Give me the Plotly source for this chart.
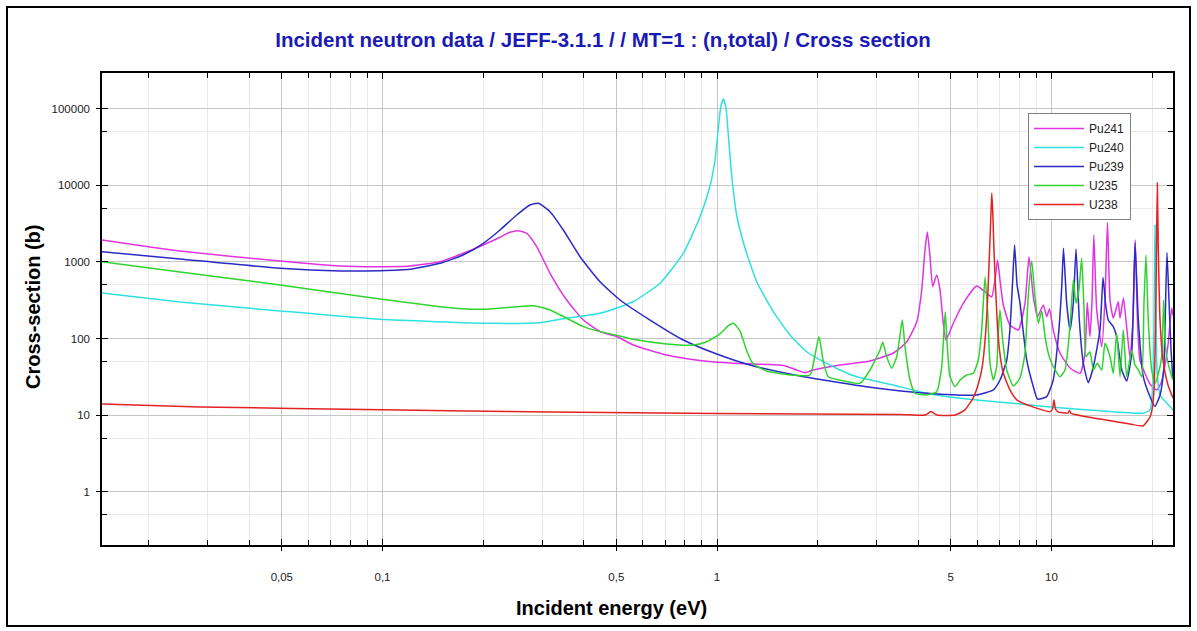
import math
import plotly.graph_objects as go

# Total cross sections (energy in eV, sigma in barns), JEFF-3.1.1, MT=1
PU241 = [
    (0.0145, 1932), (0.0248, 1388), (0.0494, 1027), (0.0746, 884), (0.0983, 866),
    (0.121, 884), (0.1485, 1006), (0.1744, 1295), (0.2002, 1662), (0.2245, 2095),
    (0.2405, 2434), (0.2547, 2555), (0.2699, 2362), (0.2891, 1579), (0.3168, 710),
    (0.3553, 318), (0.3985, 174), (0.4469, 123), (0.5013, 106), (0.5621, 82.3),
    (0.7071, 60.9), (0.8897, 51.6), (1.119, 47.5), (1.408, 45.8), (1.578, 44.4),
    (1.731, 38.8), (1.833, 35.8), (1.941, 38.8), (2.332, 45.1), (2.867, 50.9),
    (3.366, 64.7), (3.691, 90.0), (3.954, 164), (4.093, 430), (4.186, 1430),
    (4.254, 2457), (4.333, 1169), (4.414, 475), (4.538, 675), (4.642, 430),
    (4.748, 158), (4.837, 95.6), (5.086, 158), (5.448, 288), (5.975, 485),
    (6.401, 389), (6.625, 348), (6.777, 580), (6.895, 1058), (7.015, 580),
    (7.176, 274), (7.51, 150), (7.957, 129), (8.332, 288), (8.565, 1169),
    (8.823, 351), (9.082, 193), (9.452, 274), (9.674, 193), (9.863, 243),
    (10.12, 129), (10.60, 64.7), (11.36, 41.2), (12.17, 35.1), (12.59, 64.1),
    (12.79, 295), (13.03, 106), (13.22, 318), (13.38, 2245), (13.65, 236),
    (14.13, 78.2), (14.45, 318), (14.70, 3268), (14.96, 318), (15.30, 185),
    (15.66, 258), (15.84, 302), (16.03, 185), (16.41, 338), (16.81, 129),
    (17.17, 55.7), (17.52, 174), (17.80, 1932), (18.07, 174), (18.39, 52.4),
    (19.70, 25.5), (20.63, 21.3), (21.26, 26.2), (21.85, 45.1), (22.30, 82.3),
    (22.88, 250), (23.08, 200),
]

PU240 = [
    (0.0145, 393), (0.0248, 300), (0.0494, 229), (0.0983, 178), (0.2097, 158),
    (0.2957, 161), (0.3553, 184), (0.4469, 213), (0.5609, 302), (0.6755, 526),
    (0.7929, 1295), (0.8897, 3890), (0.9530, 9790), (0.9863, 21390), (1.009, 55980),
    (1.026, 105300), (1.044, 133800), (1.064, 101200), (1.081, 45360), (1.106, 13630),
    (1.145, 4096), (1.213, 1505), (1.314, 551), (1.473, 224), (1.653, 111),
    (1.854, 67.2), (2.079, 49.8), (2.332, 38.8), (2.616, 31.7), (3.36, 24.7),
    (4.236, 19.3), (5.33, 16.6), (6.70, 15.0), (8.05, 14.0), (9.90, 12.8),
    (13.96, 11.4), (18.77, 10.6), (19.70, 11.7), (20.11, 28.7), (20.28, 318),
    (20.39, 3031), (20.50, 318), (20.67, 38.8), (21.11, 18.3), (22.1, 14.4),
    (23.08, 11.7),
]

PU239 = [
    (0.0145, 1359), (0.0248, 1091), (0.0494, 825), (0.0746, 761), (0.0983, 768),
    (0.1208, 801), (0.1485, 959), (0.1740, 1230), (0.2002, 1749), (0.2245, 2609),
    (0.2519, 4096), (0.2761, 5531), (0.2922, 5821), (0.3168, 4523), (0.3471, 2609),
    (0.3895, 1169), (0.4469, 551), (0.5129, 318), (0.6306, 174), (0.7929, 95.6),
    (0.998, 62.8), (1.255, 45.1), (1.770, 32.4), (2.079, 28.7), (2.867, 23.1),
    (4.236, 19.3), (5.975, 18.3), (6.70, 21.3), (7.015, 28.7), (7.347, 52.4),
    (7.51, 129), (7.656, 580), (7.757, 1662), (7.89, 500), (8.05, 291),
    (8.431, 52.4), (8.823, 23.5), (9.082, 16.2), (9.674, 17.4), (10.12, 28.7),
    (10.48, 106), (10.73, 475), (10.86, 1505), (11.10, 291), (11.36, 129),
    (11.62, 291), (11.84, 1474), (12.11, 174), (12.45, 47.5), (12.88, 26.6),
    (13.34, 42.8), (13.96, 129), (14.26, 626), (14.50, 291), (14.78, 174),
    (15.30, 143), (15.66, 106), (16.22, 38.8), (16.78, 27.9), (17.37, 64.1),
    (17.77, 1765), (18.18, 174), (18.81, 31.7), (19.70, 17.4), (20.39, 13.0),
    (21.11, 18.3), (21.64, 38.8), (22.14, 1327), (22.45, 318), (22.77, 70.8),
    (23.08, 28.7),
]

U235 = [
    (0.0145, 1006), (0.0248, 738), (0.0494, 500), (0.0983, 328), (0.1485, 260),
    (0.1785, 243), (0.2097, 243), (0.2519, 260), (0.2824, 268), (0.3168, 236),
    (0.3553, 184), (0.3985, 143), (0.4469, 123), (0.5013, 110), (0.5621, 97.6),
    (0.7071, 84.8), (0.8494, 82.3), (0.9315, 90.8), (1.021, 115), (1.079, 146),
    (1.119, 158), (1.172, 125), (1.227, 68.7), (1.284, 46.5), (1.408, 37.6),
    (1.653, 33.4), (1.897, 33.4), (1.963, 60.9), (2.018, 106), (2.079, 49.8),
    (2.151, 31.7), (2.332, 28.7), (2.676, 26.0), (2.867, 38.8), (3.071, 70.8),
    (3.129, 89.2), (3.216, 57.9), (3.329, 40.8), (3.445, 57.9), (3.52, 106),
    (3.581, 174), (3.648, 78.2), (3.776, 28.7), (3.908, 19.3), (4.236, 18.3),
    (4.538, 20.2), (4.696, 42.8), (4.771, 129), (4.814, 224), (4.881, 78.2),
    (4.973, 31.7), (5.147, 23.5), (5.33, 28.7), (5.578, 33.4), (5.837, 35.1),
    (6.041, 52.4), (6.183, 129), (6.33, 635), (6.446, 213), (6.548, 47.5),
    (6.70, 28.7), (6.857, 42.8), (6.934, 129), (7.015, 236), (7.146, 95.6),
    (7.347, 38.8), (7.688, 24.0), (8.05, 30.5), (8.332, 64.1), (8.506, 318),
    (8.726, 1027), (8.927, 351), (9.131, 159), (9.348, 229), (9.563, 106),
    (9.782, 64.1), (10.01, 47.5), (10.60, 31.7), (10.97, 38.8), (11.36, 143),
    (11.62, 580), (11.84, 288), (12.08, 430), (12.31, 1114), (12.51, 236),
    (12.68, 57.9), (13.03, 67.2), (13.34, 38.8), (13.71, 47.5), (14.13, 38.8),
    (14.45, 86.6), (14.96, 57.9), (15.30, 35.1), (15.66, 117), (16.03, 31.7),
    (16.39, 129), (16.78, 31.7), (17.37, 70.8), (17.77, 45.1), (18.18, 38.8),
    (18.61, 31.7), (18.90, 288), (19.16, 1230), (19.47, 174), (19.93, 38.8),
    (20.39, 26.0), (20.82, 33.4), (21.35, 57.9), (21.64, 318), (21.85, 95.6),
    (22.1, 57.9), (22.88, 31.7), (23.08, 28.7),
]

U238 = [
    (0.0145, 14.0), (0.0285, 12.8), (0.1, 11.7), (0.317, 11.0), (1.0, 10.5),
    (3.52, 10.2), (4.19, 10.0), (4.36, 11.1), (4.55, 10.0), (5.15, 10.0),
    (5.51, 11.7), (5.83, 16.7), (6.03, 24.7), (6.20, 41.2), (6.33, 95.6),
    (6.44, 318), (6.53, 1430), (6.59, 4100), (6.63, 7900), (6.68, 4100),
    (6.73, 1430), (6.83, 318), (6.94, 95.6), (7.16, 36.5), (7.51, 21.3),
    (7.89, 15.7), (8.80, 12.8), (9.90, 11.1), (10.07, 12.0), (10.17, 15.7),
    (10.28, 12.0), (10.46, 11.0), (11.20, 10.65), (11.32, 11.5), (11.44, 10.5),
    (13.96, 8.89), (17.17, 7.65), (18.77, 7.21), (19.44, 8.63), (19.70, 9.45),
    (19.97, 11.7), (20.25, 21.3), (20.46, 129), (20.60, 1430), (20.72, 10700),
    (20.86, 1430), (21.11, 174), (21.54, 52.4), (22.30, 24.7), (23.08, 16.7),
]

SERIES = [
    ("Pu241", PU241, "#e233e2"),
    ("Pu240", PU240, "#2fe0e0"),
    ("Pu239", PU239, "#2a2ac6"),
    ("U235", U235, "#2ed42e"),
    ("U238", U238, "#e42222"),
]

# Axis ticks
X_MAJOR = [0.05, 0.1, 0.5, 1, 5, 10]
X_LABELS = ["0,05", "0,1", "0,5", "1", "5", "10"]
X_MINOR = [0.02, 0.03, 0.04, 0.06, 0.07, 0.08, 0.09, 0.2, 0.3, 0.4,
           0.6, 0.7, 0.8, 0.9, 2, 3, 4, 6, 7, 8, 9, 20]
Y_MAJOR = [1, 10, 100, 1000, 10000, 100000]
Y_LABELS = ["1", "10", "100", "1000", "10000", "100000"]
Y_MINOR = [0.5, 5, 50, 500, 5000, 50000]

E_MIN, E_MAX = 0.0145, 23.08
S_MIN, S_MAX = 0.2014, 292400
X_RANGE = [math.log10(E_MIN), math.log10(E_MAX)]
Y_RANGE = [math.log10(S_MIN), math.log10(S_MAX)]

FONT = "Liberation Sans, Arial, Helvetica, sans-serif"

fig = go.Figure()
for name, pts, color in SERIES:
    fig.add_trace(go.Scatter(
        x=[p[0] for p in pts], y=[p[1] for p in pts],
        mode="lines", name=name,
        line=dict(color=color, width=1.5, shape="spline", smoothing=0.5),
    ))

# empty trace that carries the overlay axes used for the outer half of major ticks
fig.add_trace(go.Scatter(x=[None], y=[None], xaxis="x2", yaxis="y2",
                         showlegend=False, hoverinfo="skip"))

L, R, T, B = 102, 24, 73, 86
W, H = 1197, 631
PW, PH = W - L - R, H - T - B


def px_to_paper(x, y):
    return (x - L) / PW, (H - B - y) / PH


common = dict(type="log", zeroline=False)

fig.update_layout(
    width=W, height=H,
    margin=dict(l=L, r=R, t=T, b=B, pad=0),
    paper_bgcolor="white", plot_bgcolor="white",
    font=dict(family=FONT, color="#222222"),
    title=dict(
        text="<b>Incident neutron data / JEFF-3.1.1 / / MT=1 : (n,total) / Cross section</b>",
        x=603 / W, xanchor="center", y=1 - 40 / H, yanchor="middle",
        font=dict(size=20.5, color="#1a1ab4", family=FONT),
    ),
    xaxis=dict(
        **common, range=X_RANGE,
        tickmode="array", tickvals=X_MAJOR, ticktext=X_LABELS,
        ticks="inside", ticklen=6, tickwidth=1, tickcolor="black",
        mirror="allticks", showline=True, linecolor="black", linewidth=1.5,
        showgrid=True, gridcolor="#c6c6c6", gridwidth=1,
        tickfont=dict(size=11.5, color="#222222"), ticklabelstandoff=20,
        minor=dict(tickvals=X_MINOR, ticks="inside", ticklen=5, tickwidth=1,
                   tickcolor="black", showgrid=True, gridcolor="#e9e9e9"),
    ),
    yaxis=dict(
        **common, range=Y_RANGE,
        tickmode="array", tickvals=Y_MAJOR, ticktext=Y_LABELS,
        ticks="inside", ticklen=6, tickwidth=1, tickcolor="black",
        mirror="allticks", showline=True, linecolor="black", linewidth=1.5,
        showgrid=True, gridcolor="#c6c6c6", gridwidth=1,
        tickfont=dict(size=11.5, color="#222222"), ticklabelstandoff=8,
        minor=dict(tickvals=Y_MINOR, ticks="inside", ticklen=5, tickwidth=1,
                   tickcolor="black", showgrid=True, gridcolor="#e9e9e9"),
    ),
    xaxis2=dict(
        **common, range=X_RANGE, overlaying="x", anchor="y", side="bottom",
        tickmode="array", tickvals=X_MAJOR, ticks="outside", ticklen=5,
        tickcolor="black", showticklabels=False, showgrid=False, showline=False,
    ),
    yaxis2=dict(
        **common, range=Y_RANGE, overlaying="y", anchor="x", side="left",
        tickmode="array", tickvals=Y_MAJOR, ticks="outside", ticklen=5,
        tickcolor="black", showticklabels=False, showgrid=False, showline=False,
    ),
    legend=dict(
        x=px_to_paper(1028, 0)[0], y=px_to_paper(0, 113)[1],
        xanchor="left", yanchor="top",
        bgcolor="white", bordercolor="#808080", borderwidth=1,
        font=dict(size=12, color="#222222", family=FONT),
        tracegroupgap=0, itemwidth=50,
    ),
    showlegend=True,
)

ax, ay = px_to_paper(611, 608)
fig.add_annotation(text="<b>Incident energy (eV)</b>", x=ax, y=ay, xref="paper", yref="paper",
                   xanchor="center", yanchor="middle", showarrow=False,
                   font=dict(size=20, color="black", family=FONT))
ax, ay = px_to_paper(33, 307)
fig.add_annotation(text="<b>Cross-section (b)</b>", x=ax, y=ay, xref="paper", yref="paper",
                   xanchor="center", yanchor="middle", showarrow=False, textangle=-90,
                   font=dict(size=20, color="black", family=FONT))

# outer frame
x0, y0 = px_to_paper(7, 626)
x1, y1 = px_to_paper(1190, 7)
fig.add_shape(type="rect", xref="paper", yref="paper", x0=x0, y0=y0, x1=x1, y1=y1,
              line=dict(color="black", width=2), fillcolor="rgba(0,0,0,0)", layer="above")

fig.write_html("out.html")
